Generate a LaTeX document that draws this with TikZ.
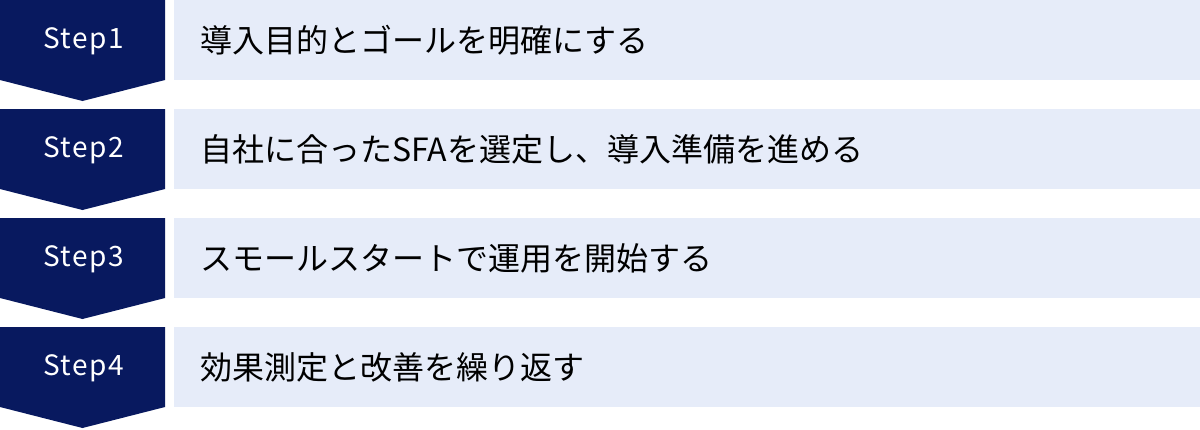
\documentclass[tikz,border=0pt]{standalone}
\usepackage{fontspec}
\setmainfont{Noto Sans CJK JP}
\newfontfamily\stepfont[LetterSpace=5]{Noto Sans CJK JP}
\definecolor{navy}{HTML}{08195F}
\definecolor{lightbox}{HTML}{E6ECF9}
\tikzset{
  steplabel/.style={text=white, font=\stepfont\fontsize{28}{32}\selectfont, inner sep=0pt, anchor=center},
  desclabel/.style={text=black, font=\fontsize{32}{36}\selectfont, inner sep=0pt, anchor=west},
}
\begin{document}
\begin{tikzpicture}[x=1pt,y=-1pt]
\useasboundingbox (0,0) rectangle (1200,429);
\fill[white] (0,0) rectangle (1200,429);
\foreach \i/\t/\lab/\desc in {
  1/0/Step1/導入目的とゴールを明確にする,
  2/109/Step2/自社に合ったSFAを選定し、導入準備を進める,
  3/218/Step3/スモールスタートで運用を開始する,
  4/327/Step4/効果測定と改善を繰り返す}{
  \fill[navy] (0,\t) -- (165,\t) -- (165,\t+80) -- (82.5,\t+101) -- (0,\t+80) -- cycle;
  \fill[lightbox] (174,\t) rectangle (1200,\t+80);
  \node[steplabel] (step\i) at (83.5,\t+41) {\lab};
  \node[desclabel] (desc\i) at (200,\t+40) {\desc};
}
\end{tikzpicture}
\end{document}
